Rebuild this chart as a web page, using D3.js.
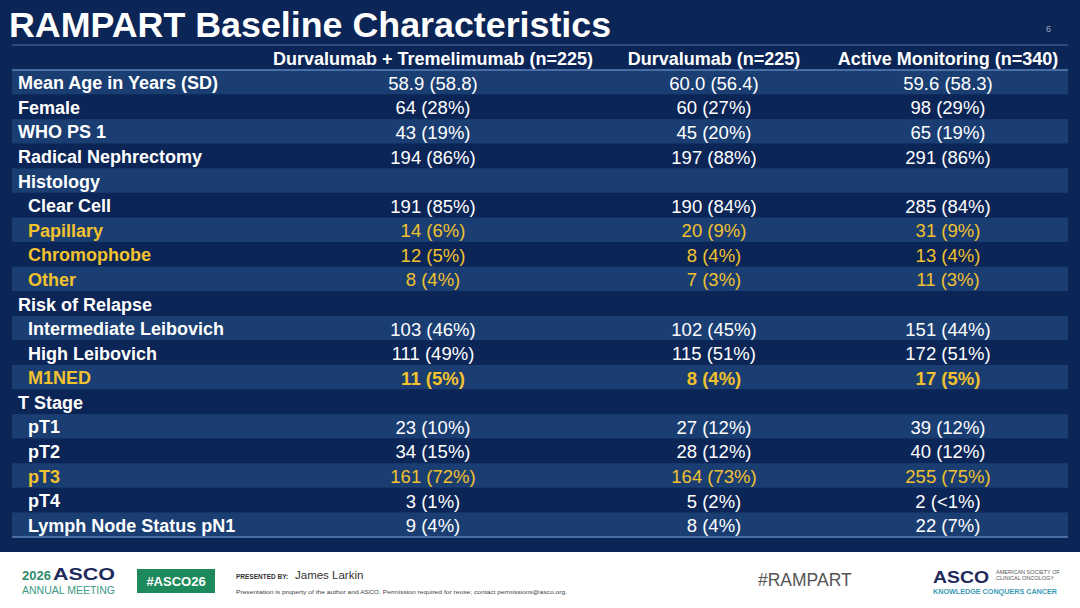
<!DOCTYPE html>
<html>
<head>
<meta charset="utf-8">
<script src="https://cdnjs.cloudflare.com/ajax/libs/d3/7.8.5/d3.min.js"></script>
<style>
  html, body { margin: 0; padding: 0; background: #fff; }
  svg { display: block; font-family: "Liberation Sans", Arial, Helvetica, sans-serif; }
</style>
</head>
<body>
<svg id="slide"></svg>
<script>
// table content
const columns = ["Durvalumab + Tremelimumab (n=225)", "Durvalumab (n=225)", "Active Monitoring (n=340)"];

const rowLabels = [
  "Mean Age in Years (SD)", "Female", "WHO PS 1", "Radical Nephrectomy", "Histology",
  "Clear Cell", "Papillary", "Chromophobe", "Other", "Risk of Relapse",
  "Intermediate Leibovich", "High Leibovich", "M1NED", "T Stage",
  "pT1", "pT2", "pT3", "pT4", "Lymph Node Status pN1"
];

const durvaTreme = ["58.9 (58.8)", "64 (28%)", "43 (19%)", "194 (86%)", "",
  "191 (85%)", "14 (6%)", "12 (5%)", "8 (4%)", "",
  "103 (46%)", "111 (49%)", "11 (5%)", "",
  "23 (10%)", "34 (15%)", "161 (72%)", "3 (1%)", "9 (4%)"];

const durva = ["60.0 (56.4)", "60 (27%)", "45 (20%)", "197 (88%)", "",
  "190 (84%)", "20 (9%)", "8 (4%)", "7 (3%)", "",
  "102 (45%)", "115 (51%)", "8 (4%)", "",
  "27 (12%)", "28 (12%)", "164 (73%)", "5 (2%)", "8 (4%)"];

const activeMon = ["59.6 (58.3)", "98 (29%)", "65 (19%)", "291 (86%)", "",
  "285 (84%)", "31 (9%)", "13 (4%)", "11 (3%)", "",
  "151 (44%)", "172 (51%)", "17 (5%)", "",
  "39 (12%)", "40 (12%)", "255 (75%)", "2 (<1%)", "22 (7%)"];

const subRows = ["Clear Cell", "Papillary", "Chromophobe", "Other",
  "Intermediate Leibovich", "High Leibovich", "M1NED",
  "pT1", "pT2", "pT3", "pT4", "Lymph Node Status pN1"];
const yellowRows = ["Papillary", "Chromophobe", "Other", "M1NED", "pT3"];
const boldValueRows = ["M1NED"];

const W = 1080, H = 608;
const navy = "#0b2556", stripe = "#1a3e72", yellow = "#f2c12e";

const svg = d3.select("#slide").attr("width", W).attr("height", H);

// background
svg.append("rect").attr("width", W).attr("height", H).attr("fill", "#ffffff");
svg.append("rect").attr("width", W).attr("height", 552).attr("fill", navy);

// title
svg.append("text")
  .attr("x", 9).attr("y", 37)
  .attr("fill", "#fff").attr("font-weight", "bold").attr("font-size", 35.8)
  .text("RAMPART Baseline Characteristics");
svg.append("text")
  .attr("x", 1046).attr("y", 32)
  .attr("fill", "#9aa6bd").attr("font-size", 9)
  .text("6");

svg.append("line")
  .attr("x1", 12).attr("x2", 1068).attr("y1", 45).attr("y2", 45)
  .attr("stroke", "#4f74a8").attr("stroke-width", 1.2);

// scales
const y = d3.scaleBand().domain(d3.range(rowLabels.length)).range([70, 537]).padding(0);
const x = d3.scaleOrdinal().domain(columns).range([433, 714, 948]);

// header
svg.selectAll(".colhead").data(columns).enter().append("text")
  .attr("class", "colhead")
  .attr("x", d => x(d)).attr("y", 59)
  .attr("text-anchor", "middle").attr("dominant-baseline", "central")
  .attr("fill", "#fff").attr("font-weight", "bold").attr("font-size", 18)
  .text(d => d);

// stripes
svg.selectAll(".band").data(rowLabels).enter().append("rect")
  .attr("class", "band")
  .attr("x", 12).attr("width", 1056)
  .attr("y", (d, i) => y(i)).attr("height", y.bandwidth())
  .attr("fill", (d, i) => i % 2 === 0 ? stripe : navy);

svg.append("line")
  .attr("x1", 12).attr("x2", 1068).attr("y1", 70).attr("y2", 70)
  .attr("stroke", "#5b82bb").attr("stroke-width", 1.5);
svg.append("line")
  .attr("x1", 12).attr("x2", 1068).attr("y1", 537).attr("y2", 537)
  .attr("stroke", "#5b82bb").attr("stroke-width", 1.5);

// row labels
svg.selectAll(".rowlab").data(rowLabels).enter().append("text")
  .attr("class", "rowlab")
  .attr("x", d => subRows.includes(d) ? 28 : 18)
  .attr("y", (d, i) => y(i) + y.bandwidth() / 2 + 1)
  .attr("dominant-baseline", "central")
  .attr("font-weight", "bold").attr("font-size", 18)
  .attr("fill", d => yellowRows.includes(d) ? yellow : "#fff")
  .text(d => d);

// values
const series = [durvaTreme, durva, activeMon];
series.forEach((vals, c) => {
  svg.selectAll(".val" + c).data(vals).enter().append("text")
    .attr("class", "val" + c)
    .attr("x", x(columns[c]))
    .attr("y", (d, i) => y(i) + y.bandwidth() / 2 + 1)
    .attr("text-anchor", "middle").attr("dominant-baseline", "central")
    .attr("font-size", 18.5)
    .attr("font-weight", (d, i) => boldValueRows.includes(rowLabels[i]) ? "bold" : "normal")
    .attr("fill", (d, i) => yellowRows.includes(rowLabels[i]) ? yellow : "#fff")
    .text(d => d);
});

// footer
const foot = svg.append("g");
foot.append("text").attr("x", 22).attr("y", 580)
  .attr("font-size", 13).attr("font-weight", "bold").attr("fill", "#2d8a6a").text("2026");
foot.append("text").attr("x", 53).attr("y", 580)
  .attr("font-size", 17).attr("font-weight", "bold").attr("fill", "#1f2a5c")
  .attr("textLength", 62).attr("lengthAdjust", "spacingAndGlyphs").text("ASCO");
foot.append("text").attr("x", 22).attr("y", 594)
  .attr("font-size", 10).attr("fill", "#3a9a86")
  .attr("textLength", 93).attr("lengthAdjust", "spacingAndGlyphs").text("ANNUAL MEETING");

foot.append("rect").attr("x", 137).attr("y", 569).attr("width", 78).attr("height", 24).attr("fill", "#1d8a5b");
foot.append("text").attr("x", 176).attr("y", 581).attr("text-anchor", "middle").attr("dominant-baseline", "central")
  .attr("font-size", 13).attr("font-weight", "bold").attr("fill", "#fff").text("#ASCO26");

foot.append("text").attr("x", 236).attr("y", 579)
  .attr("font-size", 6.5).attr("font-weight", "bold").attr("fill", "#333").text("PRESENTED BY:");
foot.append("text").attr("x", 295).attr("y", 579)
  .attr("font-size", 11.5).attr("fill", "#333").text("James Larkin");
foot.append("text").attr("x", 236).attr("y", 594)
  .attr("font-size", 6.2).attr("fill", "#444")
  .attr("textLength", 331).attr("lengthAdjust", "spacingAndGlyphs")
  .text("Presentation is property of the author and ASCO. Permission required for reuse; contact permissions@asco.org.");

foot.append("text").attr("x", 758).attr("y", 586)
  .attr("font-size", 17.5).attr("fill", "#555").text("#RAMPART");

foot.append("text").attr("x", 933).attr("y", 583)
  .attr("font-size", 17).attr("font-weight", "bold").attr("fill", "#1f2a5c")
  .attr("textLength", 56).attr("lengthAdjust", "spacingAndGlyphs").text("ASCO");
foot.append("text").attr("x", 996).attr("y", 574)
  .attr("font-size", 5.5).attr("fill", "#555").text("AMERICAN SOCIETY OF");
foot.append("text").attr("x", 996).attr("y", 580)
  .attr("font-size", 5.5).attr("fill", "#555").text("CLINICAL ONCOLOGY");
foot.append("text").attr("x", 933).attr("y", 594)
  .attr("font-size", 7.5).attr("font-weight", "bold").attr("fill", "#3a9ab5")
  .attr("textLength", 124).attr("lengthAdjust", "spacingAndGlyphs").text("KNOWLEDGE CONQUERS CANCER");
</script>
</body>
</html>
